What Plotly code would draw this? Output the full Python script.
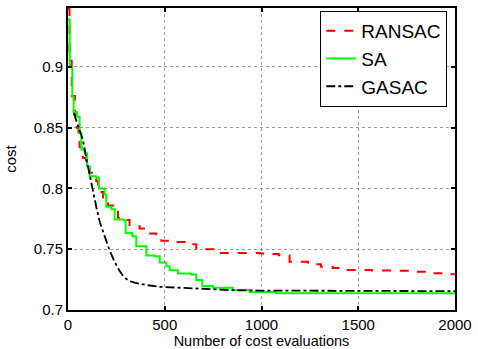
import plotly.graph_objects as go

# RANSAC (best cost so far)
ransac_x = [0, 8, 19, 36, 45, 54, 60, 77, 93, 112, 146, 155, 181, 207, 241, 258, 301, 318, 370, 405, 456,
            482, 559, 611, 663, 783, 990, 1040, 1089, 1145, 1239, 1265, 1307, 1368, 1411, 1570, 1673,
            1764, 1864, 1962, 2000]
ransac_y = [0.948, 0.905, 0.876, 0.860, 0.850, 0.840, 0.834, 0.825, 0.821, 0.813, 0.806, 0.797, 0.791,
            0.786, 0.784, 0.776, 0.774, 0.769, 0.767, 0.763, 0.761,
            0.757, 0.756, 0.754, 0.750, 0.747, 0.7465, 0.746, 0.745, 0.7397, 0.7390, 0.7377, 0.7355,
            0.7345, 0.733, 0.7325, 0.7322, 0.7315, 0.7303, 0.7295, 0.7295]

# SA (best cost so far)
sa_x = [0, 9, 22, 29, 46, 60, 69, 86, 98, 112, 146, 160, 189, 198, 224, 241, 288, 298, 332, 353, 405,
        448, 474, 508, 525, 568, 637, 663, 694, 749, 852, 938, 1076, 2000]
sa_y = [0.939, 0.900, 0.8755, 0.863, 0.859, 0.8455, 0.832, 0.829, 0.818, 0.810, 0.809, 0.800, 0.795,
        0.785, 0.783, 0.7744, 0.7739, 0.7634, 0.7607, 0.7525, 0.7449,
        0.7443, 0.739, 0.736, 0.7328, 0.730, 0.7293, 0.7246, 0.7197, 0.7184, 0.7165, 0.7148, 0.7137, 0.7132]

# GASAC
gasac_x = [30, 40, 60, 77, 98, 121, 146, 165, 181, 200, 215, 240, 267, 290, 318, 345, 370, 405, 474,
           500, 600, 698, 850, 990, 1500, 2000]
gasac_y = [0.862, 0.857, 0.848, 0.840, 0.822, 0.803, 0.785, 0.772, 0.764, 0.755, 0.749, 0.740, 0.732,
           0.727, 0.7238, 0.7225, 0.7215, 0.7205, 0.7191, 0.7189, 0.7178, 0.717, 0.7163, 0.716, 0.7157, 0.7155]

x_ticks = [0, 500, 1000, 1500, 2000]
y_ticks = [0.7, 0.75, 0.8, 0.85, 0.9]
y_labels = ["0.7", "0.75", "0.8", "0.85", "0.9"]

FONT = "Liberation Sans, Arial, Helvetica, sans-serif"

fig = go.Figure()
fig.add_trace(go.Scatter(x=ransac_x, y=ransac_y, mode="lines", name="RANSAC",
                         line=dict(color="#ff0000", width=2, dash="dash", shape="hv")))
fig.add_trace(go.Scatter(x=sa_x, y=sa_y, mode="lines", name="SA",
                         line=dict(color="#00ff00", width=2, shape="hv")))
fig.add_trace(go.Scatter(x=gasac_x, y=gasac_y, mode="lines", name="GASAC",
                         line=dict(color="#000000", width=1.8, dash="dashdot")))

axis_common = dict(showline=True, linecolor="black", linewidth=2, mirror="ticks",
                   ticks="inside", ticklen=4, tickwidth=1.5, tickcolor="black",
                   showgrid=True, gridcolor="#999999", griddash="dot", gridwidth=1,
                   zeroline=False, tickfont=dict(family=FONT, size=15, color="black"))

fig.update_layout(
    width=478, height=349,
    margin=dict(l=68, r=22, t=6, b=38),
    paper_bgcolor="white", plot_bgcolor="white",
    font=dict(family=FONT, color="black"),
    xaxis=dict(range=[0, 2000], tickvals=x_ticks,
               title=dict(text="Number of cost evaluations", font=dict(family=FONT, size=14.5), standoff=0),
               **axis_common),
    yaxis=dict(range=[0.7, 0.9485], tickvals=y_ticks, ticktext=y_labels,
               title=dict(text="cost", font=dict(family=FONT, size=15), standoff=14),
               **axis_common),
    legend=dict(x=0.98, y=0.99, xanchor="right", yanchor="top",
                bgcolor="white", bordercolor="black", borderwidth=1,
                font=dict(family=FONT, size=19), tracegroupgap=0, itemwidth=30),
    showlegend=True,
)

fig.write_html("out.html")
